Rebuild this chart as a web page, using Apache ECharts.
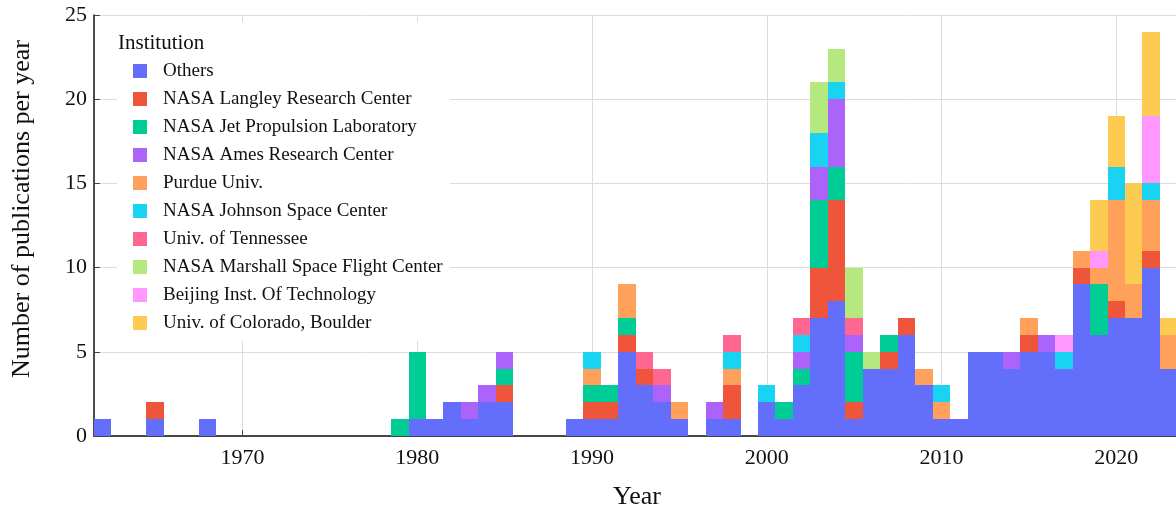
<!DOCTYPE html>
<html>
<head>
<meta charset="utf-8">
<script src="https://cdn.jsdelivr.net/npm/echarts@6/dist/echarts.min.js"></script>
<style>
  html, body { margin: 0; padding: 0; background: #fff; }
  #chart { width: 1176px; height: 514px; }
</style>
</head>
<body>
<div id="chart"></div>
<script>
// publication year bins (1962 .. 2023)
const years = [
  1962, 1963, 1964, 1965, 1966, 1967, 1968, 1969,
  1970, 1971, 1972, 1973, 1974, 1975, 1976, 1977, 1978, 1979,
  1980, 1981, 1982, 1983, 1984, 1985, 1986, 1987, 1988, 1989,
  1990, 1991, 1992, 1993, 1994, 1995, 1996, 1997, 1998, 1999,
  2000, 2001, 2002, 2003, 2004, 2005, 2006, 2007, 2008, 2009,
  2010, 2011, 2012, 2013, 2014, 2015, 2016, 2017, 2018, 2019,
  2020, 2021, 2022, 2023
];

// counts per institution, one row per decade
const others = [
  1, 0, 0, 1, 0, 0, 1, 0,
  0, 0, 0, 0, 0, 0, 0, 0, 0, 0,
  1, 1, 2, 1, 2, 2, 0, 0, 0, 1,
  1, 1, 5, 3, 2, 1, 0, 1, 1, 0,
  2, 1, 3, 7, 8, 1, 4, 4, 6, 3,
  1, 1, 5, 5, 4, 5, 5, 4, 9, 6,
  7, 7, 10, 4
];
const langley = [
  0, 0, 0, 1, 0, 0, 0, 0,
  0, 0, 0, 0, 0, 0, 0, 0, 0, 0,
  0, 0, 0, 0, 0, 1, 0, 0, 0, 0,
  1, 1, 1, 1, 0, 0, 0, 0, 2, 0,
  0, 0, 0, 3, 6, 1, 0, 1, 1, 0,
  0, 0, 0, 0, 0, 1, 0, 0, 1, 0,
  1, 0, 1, 0
];
const jpl = [
  0, 0, 0, 0, 0, 0, 0, 0,
  0, 0, 0, 0, 0, 0, 0, 0, 0, 1,
  4, 0, 0, 0, 0, 1, 0, 0, 0, 0,
  1, 1, 1, 0, 0, 0, 0, 0, 0, 0,
  0, 1, 1, 4, 2, 3, 0, 1, 0, 0,
  0, 0, 0, 0, 0, 0, 0, 0, 0, 3,
  0, 0, 0, 0
];
const ames = [
  0, 0, 0, 0, 0, 0, 0, 0,
  0, 0, 0, 0, 0, 0, 0, 0, 0, 0,
  0, 0, 0, 1, 1, 1, 0, 0, 0, 0,
  0, 0, 0, 0, 1, 0, 0, 1, 0, 0,
  0, 0, 1, 2, 4, 1, 0, 0, 0, 0,
  0, 0, 0, 0, 1, 0, 1, 0, 0, 0,
  0, 0, 0, 0
];
const purdue = [
  0, 0, 0, 0, 0, 0, 0, 0,
  0, 0, 0, 0, 0, 0, 0, 0, 0, 0,
  0, 0, 0, 0, 0, 0, 0, 0, 0, 0,
  1, 0, 2, 0, 0, 1, 0, 0, 1, 0,
  0, 0, 0, 0, 0, 0, 0, 0, 0, 1,
  1, 0, 0, 0, 0, 1, 0, 0, 1, 1,
  6, 2, 3, 2
];
const johnson = [
  0, 0, 0, 0, 0, 0, 0, 0,
  0, 0, 0, 0, 0, 0, 0, 0, 0, 0,
  0, 0, 0, 0, 0, 0, 0, 0, 0, 0,
  1, 0, 0, 0, 0, 0, 0, 0, 1, 0,
  1, 0, 1, 2, 1, 0, 0, 0, 0, 0,
  1, 0, 0, 0, 0, 0, 0, 1, 0, 0,
  2, 0, 1, 0
];
const tennessee = [
  0, 0, 0, 0, 0, 0, 0, 0,
  0, 0, 0, 0, 0, 0, 0, 0, 0, 0,
  0, 0, 0, 0, 0, 0, 0, 0, 0, 0,
  0, 0, 0, 1, 1, 0, 0, 0, 1, 0,
  0, 0, 1, 0, 0, 1, 0, 0, 0, 0,
  0, 0, 0, 0, 0, 0, 0, 0, 0, 0,
  0, 0, 0, 0
];
const marshall = [
  0, 0, 0, 0, 0, 0, 0, 0,
  0, 0, 0, 0, 0, 0, 0, 0, 0, 0,
  0, 0, 0, 0, 0, 0, 0, 0, 0, 0,
  0, 0, 0, 0, 0, 0, 0, 0, 0, 0,
  0, 0, 0, 3, 2, 3, 1, 0, 0, 0,
  0, 0, 0, 0, 0, 0, 0, 0, 0, 0,
  0, 0, 0, 0
];
const beijing = [
  0, 0, 0, 0, 0, 0, 0, 0,
  0, 0, 0, 0, 0, 0, 0, 0, 0, 0,
  0, 0, 0, 0, 0, 0, 0, 0, 0, 0,
  0, 0, 0, 0, 0, 0, 0, 0, 0, 0,
  0, 0, 0, 0, 0, 0, 0, 0, 0, 0,
  0, 0, 0, 0, 0, 0, 0, 1, 0, 1,
  0, 0, 4, 0
];
const colorado = [
  0, 0, 0, 0, 0, 0, 0, 0,
  0, 0, 0, 0, 0, 0, 0, 0, 0, 0,
  0, 0, 0, 0, 0, 0, 0, 0, 0, 0,
  0, 0, 0, 0, 0, 0, 0, 0, 0, 0,
  0, 0, 0, 0, 0, 0, 0, 0, 0, 0,
  0, 0, 0, 0, 0, 0, 0, 0, 0, 3,
  3, 6, 5, 1
];

const institutions = [
  { name: "Others", data: others, color: "#636EFA" },
  { name: "NASA Langley Research Center", data: langley, color: "#EF553B" },
  { name: "NASA Jet Propulsion Laboratory", data: jpl, color: "#00CC96" },
  { name: "NASA Ames Research Center", data: ames, color: "#AB63FA" },
  { name: "Purdue Univ.", data: purdue, color: "#FFA15A" },
  { name: "NASA Johnson Space Center", data: johnson, color: "#19D3F3" },
  { name: "Univ. of Tennessee", data: tennessee, color: "#FF6692" },
  { name: "NASA Marshall Space Flight Center", data: marshall, color: "#B6E880" },
  { name: "Beijing Inst. Of Technology", data: beijing, color: "#FF97FF" },
  { name: "Univ. of Colorado, Boulder", data: colorado, color: "#FECB52" },
];

const yearTicks = [1970, 1980, 1990, 2000, 2010, 2020];

const serif = "Liberation Serif";
const chart = echarts.init(document.getElementById("chart"));

// stack the counts: each segment becomes [year, bottom, top]
const running = years.map(() => 0);
const stacked = institutions.map((inst) => {
  const rows = [];
  years.forEach((y, i) => {
    const n = inst.data[i];
    if (n > 0) {
      rows.push([y, running[i], running[i] + n]);
      running[i] += n;
    }
  });
  return rows;
});

// one histogram bin per year, drawn from the axis scales
function renderBin(params, api) {
  const year = api.value(0);
  const topLeft = api.coord([year - 0.5, api.value(2)]);
  const botRight = api.coord([year + 0.5, api.value(1)]);
  const x0 = Math.round(topLeft[0]);
  const x1 = Math.round(botRight[0]);
  const y0 = Math.round(topLeft[1]);
  const y1 = Math.round(botRight[1]);
  return {
    type: "rect",
    shape: { x: x0, y: y0, width: x1 - x0, height: y1 - y0 },
    style: { fill: api.visual("color") },
  };
}

const option = {
  animation: false,
  grid: { left: 94, right: 0, top: 15, bottom: 78 },
  color: institutions.map((d) => d.color),
  legend: {
    orient: "vertical",
    left: 133,
    top: 61,
    padding: 0,
    itemWidth: 14,
    itemHeight: 14,
    itemGap: 8,
    icon: "rect",
    data: institutions.map((d) => d.name),
    textStyle: {
      fontFamily: serif,
      fontSize: 19,
      lineHeight: 20,
      color: "#111",
      padding: [0, 0, 0, 11],
    },
  },
  graphic: [
    {
      type: "rect",
      z: 3,
      shape: { x: 117, y: 22, width: 333, height: 319 },
      style: { fill: "#fff" },
    },
    {
      type: "text",
      z: 6,
      x: 118,
      y: 43,
      style: {
        text: "Institution",
        font: '21px "Liberation Serif"',
        fill: "#111",
        verticalAlign: "middle",
      },
    },
    {
      type: "text",
      z: 6,
      x: 637,
      y: 497,
      style: {
        text: "Year",
        font: '26px "Liberation Serif"',
        fill: "#111",
        align: "center",
        verticalAlign: "middle",
      },
    },
    {
      type: "text",
      z: 6,
      x: 22,
      y: 209,
      rotation: Math.PI / 2,
      style: {
        text: "Number of publications per year",
        font: '26px "Liberation Serif"',
        fill: "#111",
        align: "center",
        verticalAlign: "middle",
      },
    },
  ],
  xAxis: {
    type: "value",
    min: 1961.5,
    max: 2023.42,
    axisLine: { show: true, lineStyle: { color: "#111", width: 1.5 } },
    axisTick: {
      show: true,
      inside: true,
      length: 6,
      customValues: yearTicks,
      lineStyle: { color: "#444" },
    },
    axisLabel: {
      customValues: yearTicks,
      margin: 11,
      fontFamily: serif,
      fontSize: 22,
      color: "#111",
      formatter: (v) => String(v),
    },
    splitLine: { show: true, lineStyle: { color: "#dcdcdc", width: 1 } },
  },
  yAxis: {
    type: "value",
    min: 0,
    max: 25,
    interval: 5,
    axisLine: { show: true, lineStyle: { color: "#111", width: 1.5 } },
    axisTick: { show: true, inside: true, length: 6, lineStyle: { color: "#444" } },
    axisLabel: {
      margin: 7,
      fontFamily: serif,
      fontSize: 22,
      color: "#111",
    },
    splitLine: { show: true, lineStyle: { color: "#dcdcdc", width: 1 } },
  },
  series: institutions.map((inst, k) => ({
    name: inst.name,
    type: "custom",
    renderItem: renderBin,
    clip: true,
    itemStyle: { color: inst.color },
    encode: { x: 0, y: [1, 2] },
    data: stacked[k],
  })),
};

chart.setOption(option);
</script>
</body>
</html>
